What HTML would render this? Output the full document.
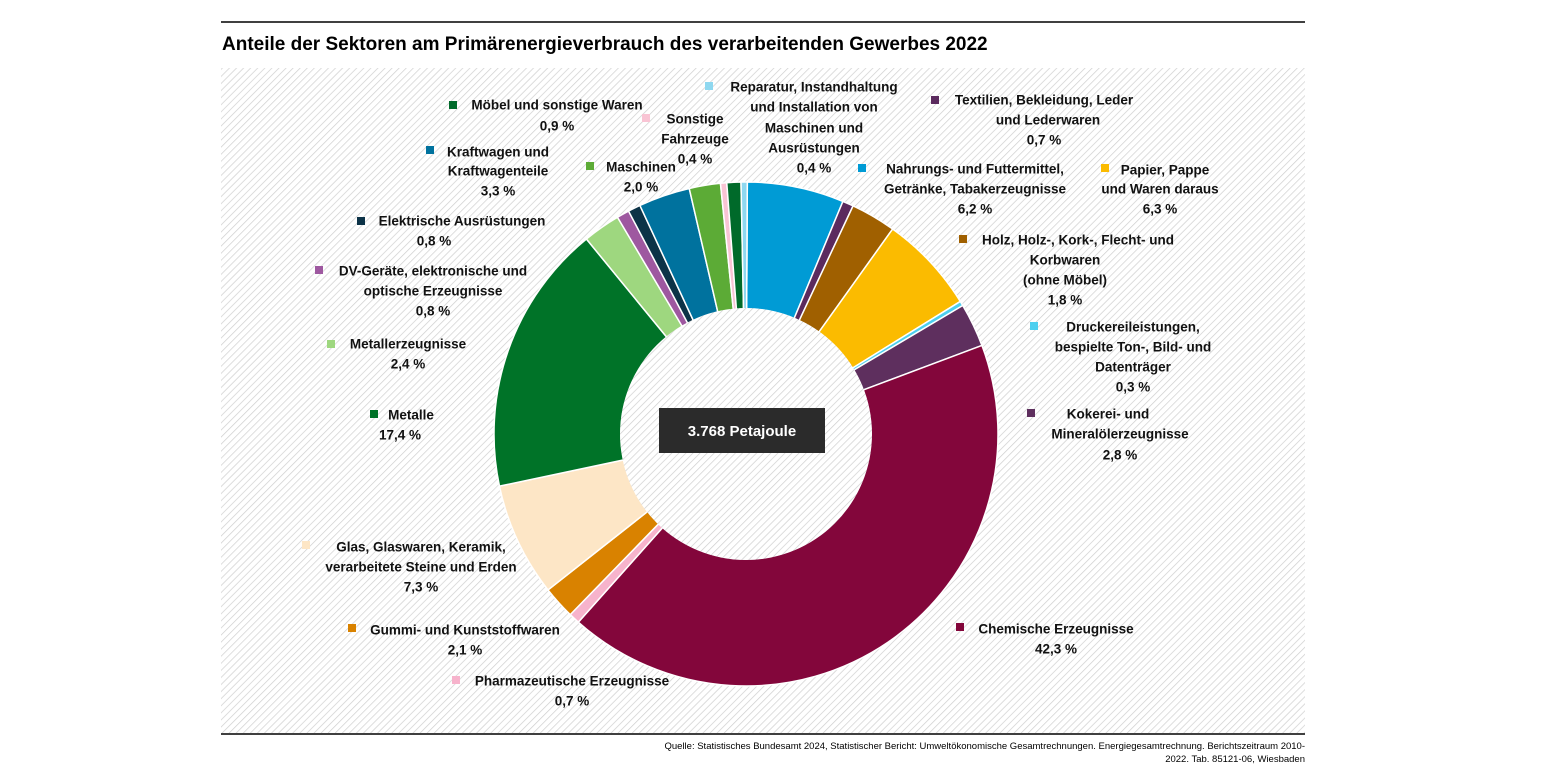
<!DOCTYPE html>
<html><head><meta charset="utf-8">
<style>
html,body{margin:0;padding:0;background:#fff;}
body{width:1545px;height:775px;overflow:hidden;font-family:"Liberation Sans",sans-serif;}
svg text{font-family:"Liberation Sans",sans-serif;}
</style></head><body>
<svg id="s" width="1545" height="775" xmlns="http://www.w3.org/2000/svg">
<defs>
<pattern id="h" width="5" height="5" patternUnits="userSpaceOnUse" patternTransform="rotate(45)">
<rect width="5" height="5" fill="#fff"/><line x1="0" y1="0" x2="0" y2="5" stroke="#cfcfcf" stroke-width="1.4"/>
</pattern>
</defs>
<line x1="221" y1="22" x2="1305" y2="22" stroke="#000" stroke-width="1.5"/>
<text x="222" y="50" font-size="19" font-weight="bold">Anteile der Sektoren am Primärenergieverbrauch des verarbeitenden Gewerbes 2022</text>
<rect x="221" y="68" width="1084" height="665" fill="url(#h)"/>
<line x1="221" y1="734" x2="1305" y2="734" stroke="#000" stroke-width="1.5"/>
<text x="1305" y="749" font-size="9.5" text-anchor="end" font-family="Liberation Serif">Quelle: Statistisches Bundesamt 2024, Statistischer Bericht: Umweltökonomische Gesamtrechnungen. Energiegesamtrechnung. Berichtszeitraum 2010-</text>
<text x="1305" y="762" font-size="9.5" text-anchor="end" font-family="Liberation Serif">2022. Tab. 85121-06, Wiesbaden</text>
<g id="pie"></g>
<circle cx="746" cy="434" r="126" fill="url(#h)"/>
<rect x="659" y="408" width="166" height="45" fill="#2b2b2b"/>
<text x="742" y="436" font-size="15" font-weight="bold" fill="#fff" text-anchor="middle">3.768 Petajoule</text>
<g id="lab" font-size="13.5" font-weight="bold" fill="#111" text-anchor="middle" dominant-baseline="middle"></g>
</svg>
<script>
var cx=746,cy=434,R=252,r=127;
var seg=[[6.2,"#009bd5"],[0.7,"#5b2a5e"],[2.9,"#a06000"],[6.3,"#fbbb00"],[0.3,"#4dcfef"],[2.8,"#5e2f5e"],[42.3,"#83063b"],[0.7,"#f7b3cc"],[2.1,"#d98200"],[7.3,"#fde6c6"],[17.4,"#007328"],[2.4,"#9ed77f"],[0.8,"#9e58a0"],[0.8,"#0c3347"],[3.3,"#00729e"],[2.0,"#5cab36"],[0.4,"#f9c4d4"],[0.9,"#006a2a"],[0.4,"#8fd8f0"]];
var tot=0;seg.forEach(s=>tot+=s[0]);
var a=0.3,g=document.getElementById('pie'),h='';
function p(ang,rad){var t=ang*Math.PI/180;return [(cx+rad*Math.sin(t)).toFixed(2),(cy-rad*Math.cos(t)).toFixed(2)];}
seg.forEach(s=>{var d=s[0]/tot*360,b=a+d,l=d>180?1:0;var p1=p(a,R),p2=p(b,R),p3=p(b,r-2),p4=p(a,r-2);
h+='<path d="M'+p1+' A'+R+' '+R+' 0 '+l+' 1 '+p2+' L'+p3+' A'+(r-2)+' '+(r-2)+' 0 '+l+' 0 '+p4+' Z" fill="'+s[1]+'" stroke="#fff" stroke-width="1.5"/>';a=b;});
g.innerHTML=h;
var L=[
[453,105,"#006a2a",[[557,106,"Möbel und sonstige Waren"],[557,127,"0,9 %"]]],
[646,118,"#f9c4d4",[[695,120,"Sonstige"],[695,140,"Fahrzeuge"],[695,160,"0,4 %"]]],
[709,86,"#8fd8f0",[[814,88,"Reparatur, Instandhaltung"],[814,108,"und Installation von"],[814,129,"Maschinen und"],[814,149,"Ausrüstungen"],[814,169,"0,4 %"]]],
[935,100,"#5b2a5e",[[1044,101,"Textilien, Bekleidung, Leder"],[1048,121,"und Lederwaren"],[1044,141,"0,7 %"]]],
[430,150,"#00729e",[[498,153,"Kraftwagen und"],[498,172,"Kraftwagenteile"],[498,192,"3,3 %"]]],
[590,166,"#5cab36",[[641,168,"Maschinen"],[641,188,"2,0 %"]]],
[862,168,"#009bd5",[[975,170,"Nahrungs- und Futtermittel,"],[975,190,"Getränke, Tabakerzeugnisse"],[975,210,"6,2 %"]]],
[1105,168,"#fbbb00",[[1165,171,"Papier, Pappe"],[1160,190,"und Waren daraus"],[1160,210,"6,3 %"]]],
[361,221,"#0c3347",[[462,222,"Elektrische Ausrüstungen"],[434,242,"0,8 %"]]],
[963,239,"#a06000",[[1078,241,"Holz, Holz-, Kork-, Flecht- und"],[1065,261,"Korbwaren"],[1065,281,"(ohne Möbel)"],[1065,301,"1,8 %"]]],
[319,270,"#9e58a0",[[433,272,"DV-Geräte, elektronische und"],[433,292,"optische Erzeugnisse"],[433,312,"0,8 %"]]],
[1034,326,"#4dcfef",[[1133,328,"Druckereileistungen,"],[1133,348,"bespielte Ton-, Bild- und"],[1133,368,"Datenträger"],[1133,388,"0,3 %"]]],
[331,344,"#9ed77f",[[408,345,"Metallerzeugnisse"],[408,365,"2,4 %"]]],
[374,414,"#007328",[[411,416,"Metalle"],[400,436,"17,4 %"]]],
[1031,413,"#5e2f5e",[[1108,415,"Kokerei- und"],[1120,435,"Mineralölerzeugnisse"],[1120,456,"2,8 %"]]],
[306,545,"#fde6c6",[[421,548,"Glas, Glaswaren, Keramik,"],[421,568,"verarbeitete Steine und Erden"],[421,588,"7,3 %"]]],
[960,627,"#83063b",[[1056,630,"Chemische Erzeugnisse"],[1056,650,"42,3 %"]]],
[352,628,"#d98200",[[465,631,"Gummi- und Kunststoffwaren"],[465,651,"2,1 %"]]],
[456,680,"#f7b3cc",[[572,682,"Pharmazeutische Erzeugnisse"],[572,702,"0,7 %"]]]
];
var o='';
L.forEach(l=>{o+='<rect x="'+(l[0]-4)+'" y="'+(l[1]-4)+'" width="8" height="8" fill="'+l[2]+'"/>';
l[3].forEach(t=>{o+='<text x="'+t[0]+'" y="'+t[1]+'">'+t[2]+'</text>';});});
document.getElementById('lab').innerHTML=o;
</script>
</body></html>
